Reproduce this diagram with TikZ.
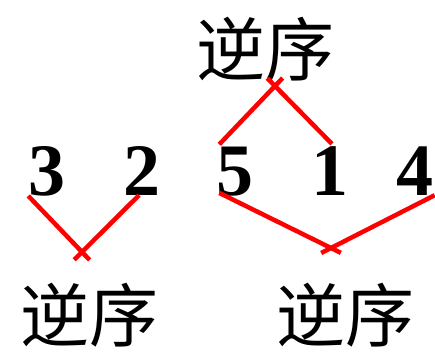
\documentclass[tikz,border=0pt]{standalone}
\usepackage{fontspec}
\setmainfont{Liberation Serif}
\newfontfamily\cjk{Noto Sans CJK SC}
\usetikzlibrary{
    positioning,
    calc,
}

\begin{document}
\begin{tikzpicture}[
        x=1pt, y=1pt,
        digit/.style={
            inner sep=0pt, anchor=base,
            font=\fontsize{74}{74}\selectfont\bfseries,
        },
        word/.style={
            inner sep=0pt,
            font=\cjk\fontsize{69}{69}\selectfont,
        },
        inv/.style={
            draw=red, line width=4.5pt,
            shorten >=-11pt,
        },
    ]
        \useasboundingbox (0,0) rectangle (435,354);
        % the sequence
        \node[digit] (n3) at (47,159) {3};
        \node[digit] (n2) at (142,159) {2};
        \node[digit] (n5) at (235,159) {5};
        \node[digit] (n1) at (330,159) {1};
        \node[digit] (n4) at (415,159) {4};
        % meeting points
        \coordinate (v32) at (82,102);
        \coordinate (v51) at (275,268);
        \coordinate (v54) at (331,106);
        % labels
        \node[word] (w51) at (265,305) {逆序};
        \node[word] (w32) at (89,39) {逆序};
        \node[word] (w54) at (345,39) {逆序};
        % pairs
        \draw[inv] (n3.south west) -- (v32);
        \draw[inv] ([xshift=-3pt]n2.south) -- (v32);
        \draw[inv] ([xshift=3pt,yshift=2pt]n5.north west) -- (v51);
        \draw[inv] ([xshift=2pt,yshift=2pt]n1.north) -- (v51);
        \draw[inv] ([xshift=3pt,yshift=3pt]n5.south west) -- (v54);
        \draw[inv] ([xshift=1pt]n4.south east) -- (v54);
    \end{tikzpicture}
\end{document}
